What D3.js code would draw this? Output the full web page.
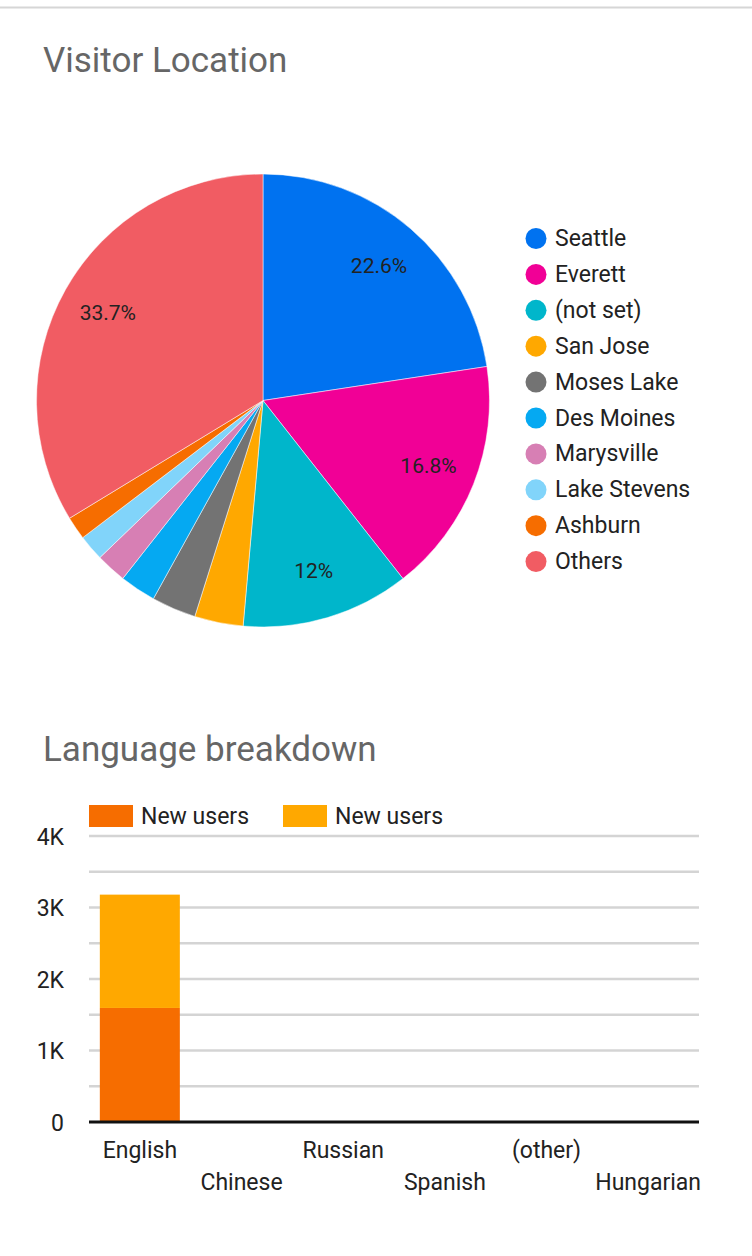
<!DOCTYPE html>
<html lang="en">
<head>
<meta charset="UTF-8">
<title>Visitor Location / Language breakdown</title>
<script src="https://d3js.org/d3.v7.min.js"></script>
<style>
    body { margin: 0; background: #fff; font-family: Roboto, "Noto Sans", Arial, sans-serif; }
    svg text { font-family: Roboto, "Noto Sans", Arial, sans-serif; }
    .title { font-size: 35px; fill: #666; }
    .lbl { font-size: 23px; fill: #222; }
    .pie-label { font-size: 21px; fill: #222; }
</style>
</head>
<body>
<div id="chart"></div>
<script>
// pie data (share of sessions, %)
const cities = ["Seattle", "Everett", "(not set)", "San Jose", "Moses Lake", "Des Moines", "Marysville", "Lake Stevens", "Ashburn", "Others"];
const cityShare = [22.6, 16.8, 12.0, 3.47, 3.17, 2.58, 2.18, 1.85, 1.65, 33.7];
const cityColors = ["#0072f0", "#f10096", "#00b6cb", "#ffa800", "#737373", "#05a9f2", "#d77fb4", "#81d4fa", "#f66d00", "#f15c63"];

// bar data
const languages = ["English", "Chinese", "Russian", "Spanish", "(other)", "Hungarian"];
const seriesNames = ["New users", "New users"];
const newUsersA = [1595, 3, 2, 2, 1, 1];
const newUsersB = [1585, 3, 2, 2, 1, 1];
const seriesColors = ["#f66d00", "#ffa800"];
const yTicks = [0, 1000, 2000, 3000, 4000];

const W = 752, H = 1256;
const svg = d3.select("#chart").append("svg")
    .attr("width", W)
    .attr("height", H);

svg.append("rect").attr("width", W).attr("height", H).attr("fill", "#fff");

// top divider
svg.append("line")
    .attr("x1", 0).attr("x2", W)
    .attr("y1", 7.5).attr("y2", 7.5)
    .attr("stroke", "#d6d6d6")
    .attr("stroke-width", 2);

// ---------- pie ----------
svg.append("text").attr("class", "title")
    .attr("x", 43).attr("y", 72)
    .text("Visitor Location");

const cx = 263, cy = 400.5, r = 226.5;
const total = d3.sum(cityShare);
const pieData = d3.pie().sort(null).value(d => d.v)(cities.map((c, i) => ({ "c": c, "v": cityShare[i], "i": i })));

const arc = d3.arc().innerRadius(0).outerRadius(r);
const labelArc = d3.arc().innerRadius(178).outerRadius(178);

const pieG = svg.append("g").attr("transform", `translate(${cx},${cy})`);

pieG.selectAll("path.slice")
    .data(pieData)
    .enter()
    .append("path")
    .attr("class", "slice")
    .attr("d", arc)
    .attr("fill", d => cityColors[d.data.i])
    .attr("stroke", "#fff")
    .attr("stroke-width", 0.5);

const pct = d3.format(".1~f");
pieG.selectAll("text.pie-label")
    .data(pieData.filter(d => d.data.v / total > 0.05))
    .enter()
    .append("text")
    .attr("class", "pie-label")
    .attr("transform", d => `translate(${labelArc.centroid(d)})`)
    .attr("text-anchor", "middle")
    .attr("dominant-baseline", "central")
    .text(d => pct(d.data.v / total * 100) + "%");

const legend = svg.append("g").attr("transform", "translate(536, 238.5)");
cities.forEach((c, i) => {
    const row = legend.append("g").attr("transform", `translate(0, ${i * 35.9})`);
    row.append("circle").attr("r", 10.5).attr("fill", cityColors[i]);
    row.append("text").attr("class", "lbl")
        .attr("x", 19).attr("y", 0)
        .attr("dominant-baseline", "central")
        .text(c);
});

// ---------- bars ----------
svg.append("text").attr("class", "title")
    .attr("x", 43).attr("y", 761)
    .text("Language breakdown");

const plotL = 89, plotR = 699, plotT = 836, plotB = 1122;

const y = d3.scaleLinear().domain([0, 4000]).range([plotB, plotT]);
const x = d3.scaleBand().domain(languages)
    .range([plotL, plotR])
    .paddingInner(0.213)
    .paddingOuter(0.1065);

// grid (every 500)
svg.append("g")
    .selectAll("line")
    .data(d3.range(500, 4001, 500))
    .enter()
    .append("line")
    .attr("x1", plotL).attr("x2", plotR)
    .attr("y1", d => y(d)).attr("y2", d => y(d))
    .attr("stroke", "#d4d4d4")
    .attr("stroke-width", 2.5);

// y axis labels
const yAxis = svg.append("g")
    .attr("transform", `translate(${plotL - 25},0)`)
    .call(d3.axisLeft(y).tickValues(yTicks).tickSize(0).tickPadding(0)
        .tickFormat(d => d === 0 ? "0" : d3.format("~s")(d).toUpperCase()));
yAxis.select(".domain").remove();
yAxis.selectAll("text").attr("class", "lbl").attr("fill", null)
    .style("font-size", "23px").attr("dy", "0.35em");

const stacked = d3.stack().keys([0, 1])(languages.map((l, i) => ({ "lang": l, 0: newUsersA[i], 1: newUsersB[i] })));

stacked.forEach((s, si) => {
    svg.append("g")
        .selectAll("rect")
        .data(s)
        .enter()
        .append("rect")
        .attr("x", d => x(d.data.lang))
        .attr("width", x.bandwidth())
        .attr("y", d => y(d[1]))
        .attr("height", d => Math.max(0, y(d[0]) - y(d[1]) - (si === 0 ? 0.8 : 0)))
        .attr("fill", seriesColors[si]);
});

// baseline
svg.append("line")
    .attr("x1", plotL).attr("x2", plotR)
    .attr("y1", plotB).attr("y2", plotB)
    .attr("stroke", "#111")
    .attr("stroke-width", 3);

// x labels, alternating rows
const xAxis = svg.append("g")
    .attr("transform", `translate(0,${plotB})`)
    .call(d3.axisBottom(x).tickSize(0).tickPadding(0));
xAxis.select(".domain").remove();
xAxis.selectAll("text")
    .attr("class", "lbl").attr("fill", null)
    .style("font-size", "23px")
    .attr("dy", null)
    .attr("y", (d, i) => i % 2 === 0 ? 36 : 68);

// bar legend
const bl = svg.append("g").attr("transform", "translate(89, 805)");
seriesNames.forEach((n, i) => {
    const g = bl.append("g").attr("transform", `translate(${i * 194}, 0)`);
    g.append("rect").attr("width", 44).attr("height", 22).attr("fill", seriesColors[i]);
    g.append("text").attr("class", "lbl")
        .attr("x", 52).attr("y", 11)
        .attr("dominant-baseline", "central")
        .text(n);
});
</script>
</body>
</html>
